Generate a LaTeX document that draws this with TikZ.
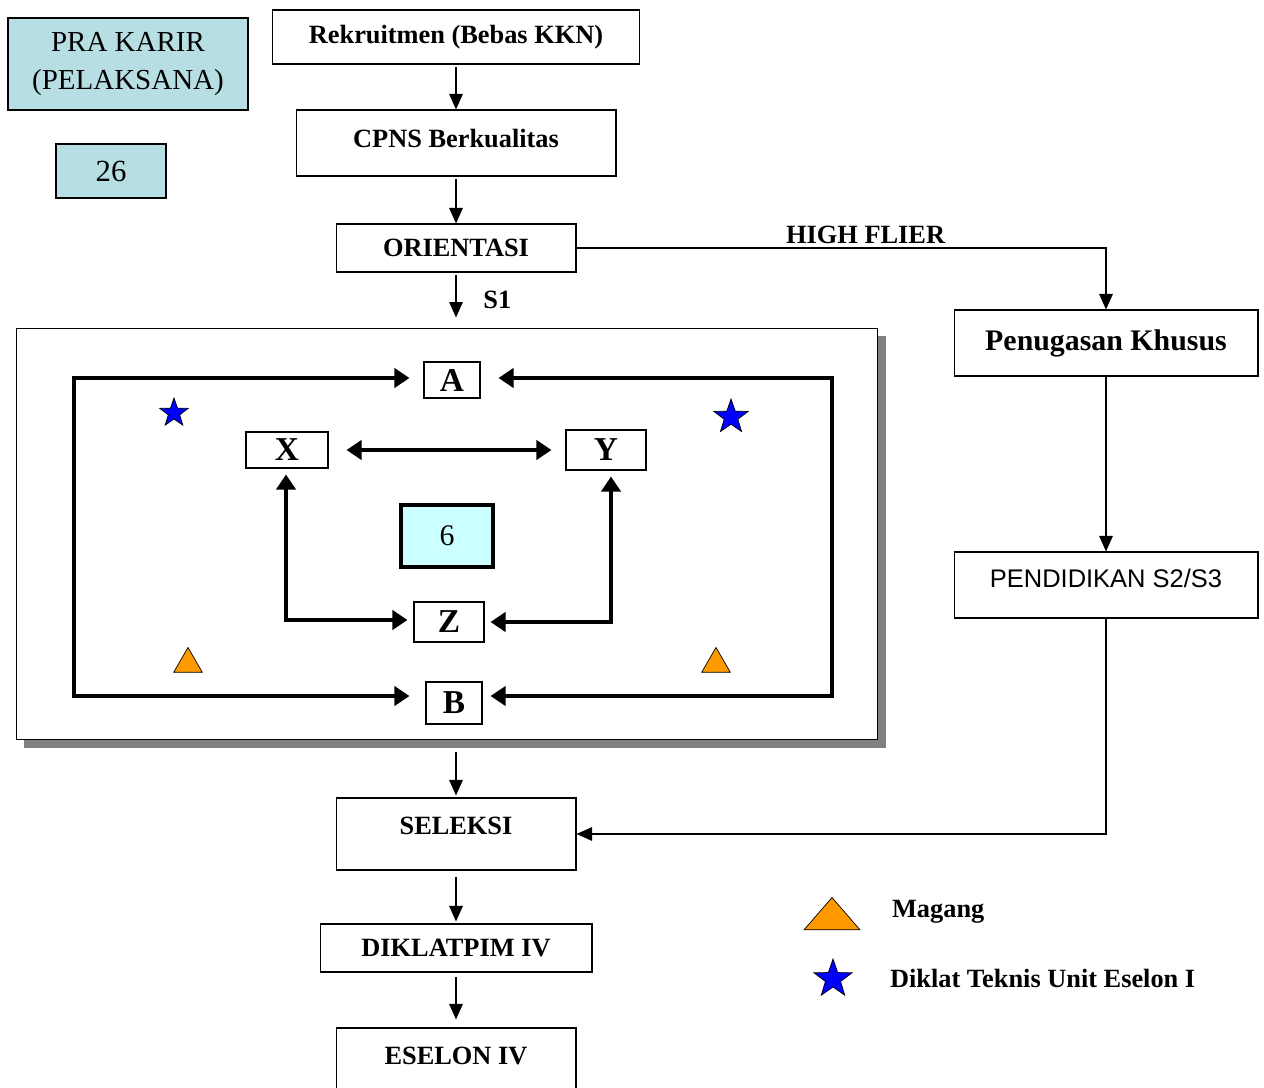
\documentclass[tikz,border=0pt]{standalone}
\usepackage{fontspec}
\setmainfont{Liberation Serif}
\newfontfamily\arialfont{Liberation Sans}
\usepackage{tikz}
\usetikzlibrary{positioning}
\usetikzlibrary{arrows.meta}
\usetikzlibrary{shapes.geometric}
\usetikzlibrary{shadows}
\definecolor{paleteal}{HTML}{B7DEE2}
\definecolor{paleaqua}{HTML}{CCFFFF}
\definecolor{markorange}{HTML}{FF9900}
\definecolor{shadowgray}{HTML}{808080}
\tikzset {
  % boxes of the career flow
  box/.style = {draw, line width=0.6pt, fill=white, inner sep=0pt, font=\bfseries\fontsize{15}{18}\selectfont},
  tealbox/.style = {draw, line width=0.6pt, fill=paleteal, inner sep=0pt, align=center, font=\fontsize{16.5}{21.5}\selectfont},
  % the lettered boxes inside the frame
  letter/.style = {draw, line width=0.6pt, fill=white, inner sep=0pt, font=\bfseries\fontsize{19}{22}\selectfont},
  % thin and fat connectors
  flow/.style = {-{Triangle[length=0.31cm, width=0.27cm]}, line width=0.8pt},
  fat/.style = {{Triangle[length=0.3cm, width=0.38cm]}-{Triangle[length=0.3cm, width=0.38cm]}, line width=2.5pt},
  % legend marks
  starmark/.style = {star, star points=5, star point ratio=2.5, draw, line width=0.4pt, fill=blue, inner sep=0pt},
  trimark/.style = {regular polygon, regular polygon sides=3, draw, line width=0.4pt, fill=markorange, inner sep=0pt},
  tag/.style = {font=\bfseries\fontsize{15}{18}\selectfont, inner sep=1pt},
}

\begin{document}
\begin{tikzpicture}[x=0.02cm, y=-0.02cm]
  \useasboundingbox (0,0) rectangle (1264,1088);

  \node[tealbox, minimum width=4.8cm, minimum height=1.84cm] (pra) at (128,64) {PRA KARIR\\(PELAKSANA)};
  \node[tealbox, minimum width=2.2cm, minimum height=1.08cm, font=\fontsize{17.5}{20}\selectfont] (n26) at (111,171) {26};

  \node[box, minimum width=7.36cm, minimum height=1.08cm] (rek) at (456,37) {Rekruitmen (Bebas KKN)};
  \node[box, minimum width=6.4cm, minimum height=1.32cm, text depth=0.2cm] (cpns) at (456,143) {CPNS Berkualitas};
  \node[box, minimum width=4.8cm, minimum height=0.96cm] (ori) at (456,248) {ORIENTASI};

  \node[box, minimum width=6.08cm, minimum height=1.32cm, font=\bfseries\fontsize{17}{20}\selectfont] (pen) at (1106,343) {Penugasan Khusus};
  \node[box, minimum width=6.08cm, minimum height=1.32cm, text depth=0.26cm, font=\arialfont\fontsize{14.5}{17}\selectfont] (pend) at (1106,585) {PENDIDIKAN S2/S3};

  % frame with the job rotation
  \node[draw, line width=0.6pt, fill=white, minimum width=17.24cm, minimum height=8.24cm, inner sep=0pt,
        drop shadow={shadow xshift=0.16cm, shadow yshift=-0.16cm, fill=shadowgray, opacity=1}] (frame) at (447,534) {};

  \node[letter, minimum width=1.12cm, minimum height=0.72cm] (A) at (452,380) {A};
  \node[letter, minimum width=1.64cm, minimum height=0.72cm] (X) at (287,450) {X};
  \node[letter, minimum width=1.6cm, minimum height=0.8cm] (Y) at (606,450) {Y};
  \node[draw, line width=1.8pt, fill=paleaqua, minimum width=1.84cm, minimum height=1.24cm, font=\fontsize{17}{20}\selectfont] (six) at (447,536) {6};
  \node[letter, minimum width=1.4cm, minimum height=0.8cm] (Z) at (449,622) {Z};
  \node[letter, minimum width=1.12cm, minimum height=0.84cm] (B) at (454,703) {B};

  \coordinate (tl) at (74,378);
  \coordinate (bl) at (74,696);
  \coordinate (tr) at (832,378);
  \coordinate (br) at (832,696);
  \coordinate (xz) at (286,620);
  \coordinate (yz) at (611,622);

  \draw[fat, shorten <=0.28cm, shorten >=0.32cm] (tl -| A.west) -- (tl) -- (bl) -- (bl -| B.west);
  \draw[fat, shorten <=0.36cm, shorten >=0.16cm] (tr -| A.east) -- (tr) -- (br) -- (br -| B.east);
  \draw[fat, shorten <=0.36cm, shorten >=0.28cm] (X.east) -- (Y.west);
  \draw[fat, shorten <=0.12cm, shorten >=0.12cm] (xz |- X.south) -- (xz) -- (xz -| Z.west);
  \draw[fat, shorten <=0.12cm, shorten >=0.12cm] (yz |- Y.south) -- (yz) -- (yz -| Z.east);

  \node[starmark, minimum size=0.6cm] (st1) at (174,413) {};
  \node[starmark, minimum size=0.72cm] (st2) at (731,417) {};
  \node[trimark, minimum size=0.66cm] (tr1) at (188,664) {};
  \node[trimark, minimum size=0.66cm] (tr2) at (716,664) {};

  \node[box, minimum width=4.8cm, minimum height=1.44cm, text depth=0.32cm] (sel) at (456,834) {SELEKSI};
  \node[box, minimum width=5.44cm, minimum height=0.96cm] (dik) at (456,948) {DIKLATPIM IV};
  \node[box, minimum width=4.8cm, minimum height=1.44cm, text depth=0.32cm] (esl) at (456,1064) {ESELON IV};

  % legend
  \node[trimark, minimum size=0.86cm, xscale=1.5, transform shape] (legtri) at (832,919) {};
  \node[tag, anchor=west] (legmag) at (890,912) {Magang};
  \node[starmark, minimum size=0.8cm] (legstar) at (833,979) {};
  \node[tag, anchor=west] (legdik) at (888,978) {Diklat Teknis Unit Eselon I};

  \draw[flow, shorten <=0.04cm] (rek) -- (cpns);
  \draw[flow, shorten <=0.04cm] (cpns) -- (ori);
  \draw[flow, shorten <=0.04cm, shorten >=0.2cm] (ori.south) -- node[tag, right=0.5cm] {S1} (ori.south |- frame.north);
  \draw[flow] (ori.east) -| node[tag, pos=0.273, above=1pt] {HIGH FLIER} (pen.north);
  \draw[flow] (pen) -- (pend);
  \draw[flow] (pend.south) |- (sel.east);
  \draw[flow, shorten <=0.24cm, shorten >=0.04cm] (sel.north |- frame.south) -- (sel.north);
  \draw[flow, shorten <=0.12cm, shorten >=0.04cm] (sel) -- (dik);
  \draw[flow, shorten <=0.08cm, shorten >=0.16cm] (dik) -- (esl);
\end{tikzpicture}
\end{document}
